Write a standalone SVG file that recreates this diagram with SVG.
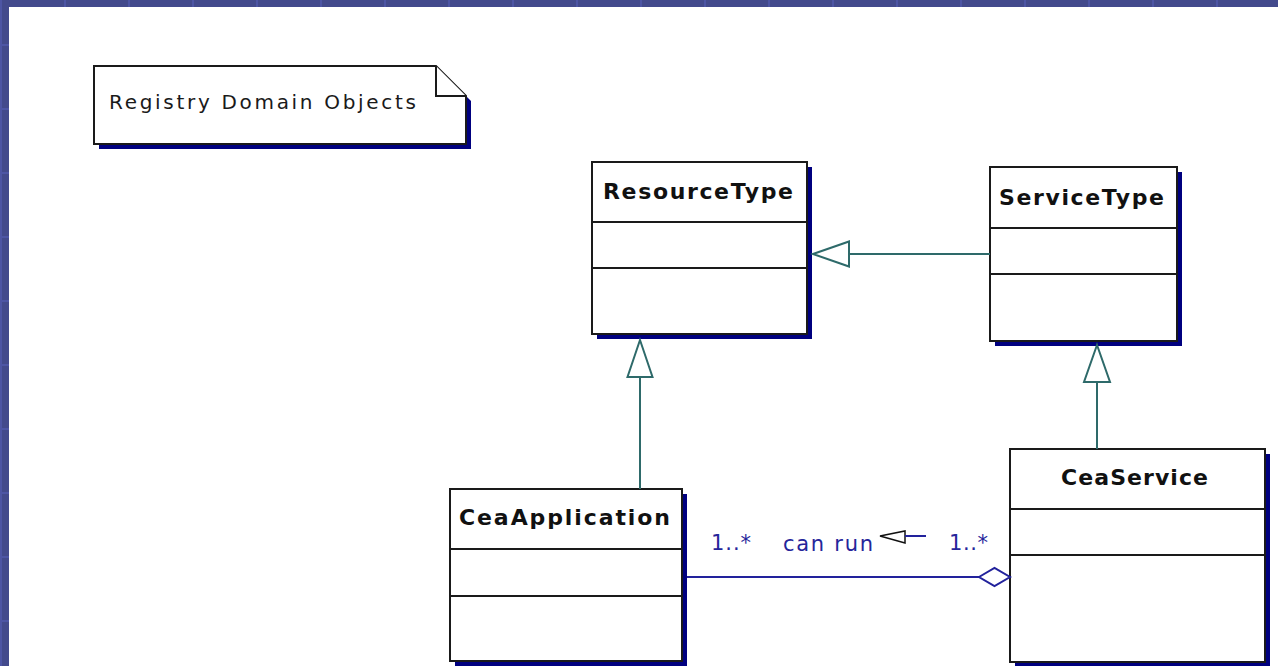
<svg xmlns="http://www.w3.org/2000/svg" width="1278" height="666" viewBox="0 0 1278 666">
  <style>
    .box{fill:#fff;stroke:#1a1a1a;stroke-width:2}
    .shadow{fill:#00007f}
    .title{font-family:"DejaVu Sans",sans-serif;font-weight:bold;font-size:22px;fill:#111}
    .note{font-family:"DejaVu Sans",sans-serif;font-size:20px;fill:#1a1a1a}
    .gen{stroke:#2e6a6a;stroke-width:2;fill:none}
    .tri{fill:#fff;stroke:#2e6a6a;stroke-width:2}
    .assoc{stroke:#22229c;stroke-width:2;fill:none}
    .lbl{font-family:"DejaVu Sans",sans-serif;font-size:21px;fill:#25259a}
    .grid{stroke:#4d55a4;stroke-width:2}
  </style>

  <!-- slide frame: blue backdrop with a faint grid, white canvas on top -->
  <g id="frame">
    <rect x="0" y="0" width="1278" height="666" fill="#434a8c"/>
    <g class="grid">
      <path d="M1 0V666M65 0V666M129 0V666M193 0V666M257 0V666M321 0V666M385 0V666M449 0V666M513 0V666M577 0V666M641 0V666M705 0V666M769 0V666M833 0V666M897 0V666M961 0V666M1025 0V666M1089 0V666M1153 0V666M1217 0V666"/>
      <path d="M0 45H1278M0 109H1278M0 173H1278M0 237H1278M0 301H1278M0 365H1278M0 429H1278M0 493H1278M0 557H1278M0 621H1278"/>
    </g>
    <rect x="9" y="7" width="1269" height="659" fill="#fff"/>
  </g>

  <!-- note -->
  <g id="note">
    <polygon class="shadow" points="99,71 441,71 471,101 471,149 99,149"/>
    <polygon class="box" points="94,66 436,66 466,96 466,144 94,144"/>
    <polyline class="box" fill="none" points="436,66 436,96 466,96"/>
    <text class="note" x="109" y="109" textLength="307">Registry Domain Objects</text>
  </g>

  <!-- classes -->
  <g id="ResourceType">
    <rect class="shadow" x="597" y="167" width="215" height="172"/>
    <rect class="box" x="592" y="162" width="215" height="172"/>
    <path class="box" d="M592 222H807M592 268H807"/>
    <text class="title" x="603" y="199" textLength="190">ResourceType</text>
  </g>

  <g id="ServiceType">
    <rect class="shadow" x="995" y="172" width="187" height="174"/>
    <rect class="box" x="990" y="167" width="187" height="174"/>
    <path class="box" d="M990 228H1177M990 274H1177"/>
    <text class="title" x="999" y="205" textLength="165">ServiceType</text>
  </g>

  <g id="CeaApplication">
    <rect class="shadow" x="455" y="494" width="232" height="172"/>
    <rect class="box" x="450" y="489" width="232" height="172"/>
    <path class="box" d="M450 549H682M450 596H682"/>
    <text class="title" x="459" y="525" textLength="211">CeaApplication</text>
  </g>

  <g id="CeaService">
    <rect class="shadow" x="1015" y="454" width="255" height="213"/>
    <rect class="box" x="1010" y="449" width="255" height="213"/>
    <path class="box" d="M1010 509H1265M1010 555H1265"/>
    <text class="title" x="1061" y="485" textLength="147">CeaService</text>
  </g>

  <!-- relationships -->
  <g id="connectors">
    <!-- generalizations -->
    <line class="gen" x1="990" y1="254" x2="849" y2="254"/>
    <polygon class="tri" points="813,254 849,241.5 849,266.5"/>
    <line class="gen" x1="640" y1="489" x2="640" y2="377"/>
    <polygon class="tri" points="640,340 627.5,377 652.5,377"/>
    <line class="gen" x1="1097" y1="449" x2="1097" y2="382"/>
    <polygon class="tri" points="1097,345 1084,382 1110,382"/>

    <!-- aggregation: CeaService can run CeaApplication -->
    <line class="assoc" x1="687" y1="577" x2="979" y2="577"/>
    <polygon fill="#fff" stroke="#22229c" stroke-width="2" points="979,577 994.5,568 1010,577 994.5,586"/>
    <text class="lbl" x="711" y="550" textLength="40">1..*</text>
    <text class="lbl" x="783" y="551" textLength="90">can run</text>
    <polygon fill="#fff" stroke="#111" stroke-width="1.5" points="880,536 905,531 905,543"/>
    <line x1="905" y1="536" x2="926" y2="536" stroke="#22229c" stroke-width="2"/>
    <text class="lbl" x="949" y="550" textLength="39">1..*</text>
  </g>
</svg>
